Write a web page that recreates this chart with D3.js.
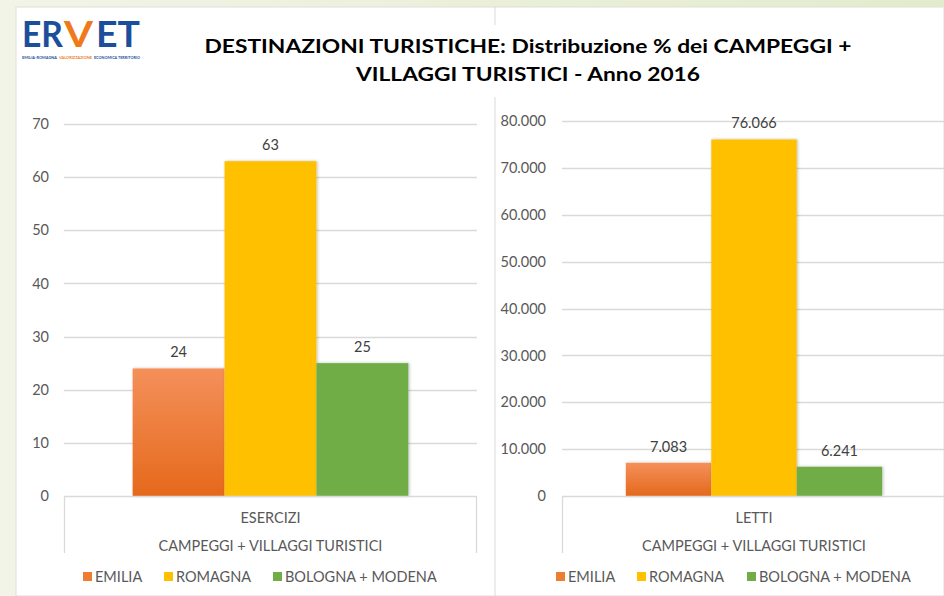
<!DOCTYPE html>
<meta charset="utf-8">
<script src="https://d3js.org/d3.v7.min.js"></script>
<style>
  body { margin: 0; background: #fff; }
  text { font-family: Lato, "Open Sans", sans-serif; }
</style>
<div id="chart"></div>
<script>

// data
var categories = ["EMILIA", "ROMAGNA", "BOLOGNA + MODENA"];
var colors = ["#ED7D31", "#FFC000", "#70AD47"];
var groupLabel = "CAMPEGGI + VILLAGGI TURISTICI";

var eserciziLabel = "ESERCIZI";
var eserciziValues = [24, 63, 25];
var eserciziTicks = [0, 10, 20, 30, 40, 50, 60, 70];

var lettiLabel = "LETTI";
var lettiValues = [7083, 76066, 6241];
var lettiTicks = [0, 10000, 20000, 30000, 40000, 50000, 60000, 70000, 80000];

var titleLines = ["DESTINAZIONI TURISTICHE:  Distribuzione % dei CAMPEGGI  +",
                  "VILLAGGI TURISTICI - Anno 2016"];

// italian number format (dot as thousands separator)
var it = d3.formatLocale({decimal: ",", thousands: ".", grouping: [3], currency: ["", " €"]});
var fmt = it.format(",d");

var W = 944, H = 596;
var svg = d3.select("#chart").append("svg")
    .attr("width", W)
    .attr("height", H);

var defs = svg.append("defs");

// background: pale green frame on left / top
var bg = defs.append("linearGradient").attr("id", "bg").attr("x1", 0).attr("y1", 0).attr("x2", 1).attr("y2", 0);
bg.append("stop").attr("offset", "0%").attr("stop-color", "#f2f4e8");
bg.append("stop").attr("offset", "100%").attr("stop-color", "#e4ebcc");
svg.append("rect").attr("width", W).attr("height", H).attr("fill", "url(#bg)");
svg.append("rect").attr("x", 16).attr("y", 7).attr("width", W - 16).attr("height", H - 7)
    .attr("fill", "#fff").attr("stroke", "#dedfd8").attr("stroke-width", 1);

// orange gradient of the Emilia bars
var og = defs.append("linearGradient").attr("id", "orange").attr("x1", 0).attr("y1", 0).attr("x2", 0).attr("y2", 1);
og.append("stop").attr("offset", "0%").attr("stop-color", "#F4905A");
og.append("stop").attr("offset", "100%").attr("stop-color", "#E5691C");

var shadow = defs.append("filter").attr("id", "shadow")
    .attr("x", "-10%").attr("y", "-10%").attr("width", "130%").attr("height", "120%");
shadow.append("feDropShadow").attr("dx", 1).attr("dy", 0).attr("stdDeviation", 1.5)
    .attr("flood-color", "#000").attr("flood-opacity", 0.25);

var fills = ["url(#orange)", colors[1], colors[2]];

// divider between the two charts
svg.append("line").attr("x1", 495).attr("x2", 495).attr("y1", 7).attr("y2", 25)
    .attr("stroke", "#d9d9d9");
svg.append("line").attr("x1", 495).attr("x2", 495).attr("y1", 97).attr("y2", H)
    .attr("stroke", "#d9d9d9");

// logo, pieces placed side by side
var logo = svg.append("g")
    .style("font-family", "'Liberation Sans Narrow', 'DejaVu Sans Condensed', sans-serif")
    .style("font-weight", "bold");
var logoParts = [
  {t: "ER", x: 22, w: 41, c: "#1B4F9C"},
  {t: "V", x: 64, w: 29, c: "#EF7A1A"},
  {t: "ET", x: 96, w: 44, c: "#1B4F9C"}
];
logo.selectAll(".lp").data(logoParts).enter().append("text")
    .attr("x", function(d) { return d.x; }).attr("y", 47)
    .attr("textLength", function(d) { return d.w; }).attr("lengthAdjust", "spacingAndGlyphs")
    .style("font-size", "36px").attr("fill", function(d) { return d.c; })
    .text(function(d) { return d.t; });
var tagParts = [
  {t: "EMILIA-ROMAGNA", x: 22, w: 35, c: "#1B4F9C"},
  {t: "VALORIZZAZIONE", x: 59, w: 33, c: "#EF7A1A"},
  {t: "ECONOMICA TERRITORIO", x: 94, w: 46, c: "#1B4F9C"}
];
logo.selectAll(".tp").data(tagParts).enter().append("text")
    .attr("x", function(d) { return d.x; }).attr("y", 59)
    .attr("textLength", function(d) { return d.w; }).attr("lengthAdjust", "spacingAndGlyphs")
    .style("font-size", "4px").attr("fill", function(d) { return d.c; })
    .text(function(d) { return d.t; });

// title
svg.append("text").attr("x", 528).attr("y", 53)
    .attr("text-anchor", "middle")
    .attr("textLength", 647).attr("lengthAdjust", "spacingAndGlyphs")
    .style("font-size", "19px").style("font-weight", "bold").attr("fill", "#000")
    .text(titleLines[0]);
svg.append("text").attr("x", 528).attr("y", 81)
    .attr("text-anchor", "middle")
    .attr("textLength", 344).attr("lengthAdjust", "spacingAndGlyphs")
    .style("font-size", "19px").style("font-weight", "bold").attr("fill", "#000")
    .text(titleLines[1]);

function drawPanel(cfg) {
  var g = svg.append("g");

  var y = d3.scaleLinear()
    .domain([0, cfg.ticks[cfg.ticks.length - 1]])
    .range([496, cfg.top]);

  // one category group, bars fill 2/3 of the plot width
  var x0 = d3.scaleBand()
    .domain([cfg.label])
    .range([cfg.left, cfg.right])
    .paddingInner(0)
    .paddingOuter(0.249);
  var x1 = d3.scaleBand()
    .domain(categories)
    .range([0, x0.bandwidth()]);

  // gridlines
  g.selectAll(".grid")
    .data(cfg.ticks.slice(1))
    .enter().append("line")
      .attr("x1", cfg.left).attr("x2", cfg.right)
      .attr("y1", function(d) { return Math.round(y(d)) + 0.5; })
      .attr("y2", function(d) { return Math.round(y(d)) + 0.5; })
      .attr("stroke", "#d9d9d9").attr("stroke-width", 1.3);

  // y axis labels
  var yAxis = d3.axisLeft(y).tickValues(cfg.ticks).tickFormat(fmt).tickSize(0).tickPadding(0);
  var ya = g.append("g")
    .attr("transform", "translate(" + cfg.labelX + ",0)")
    .call(yAxis);
  ya.select(".domain").remove();
  ya.selectAll("text")
    .attr("dy", "0.32em")
    .style("font-family", "Lato, 'Open Sans', sans-serif")
    .style("font-size", "14.5px").attr("fill", "#595959");

  // bars
  var grp = g.append("g").attr("transform", "translate(" + x0(cfg.label) + ",0)");
  grp.selectAll("rect")
    .data(cfg.values)
    .enter().append("rect")
      .attr("x", function(d, i) { return x1(categories[i]); })
      .attr("y", function(d) { return y(d); })
      .attr("width", x1.bandwidth())
      .attr("height", function(d) { return y(0) - y(d); })
      .attr("fill", function(d, i) { return fills[i]; })
      .attr("filter", "url(#shadow)");

  // value labels
  grp.selectAll(".val")
    .data(cfg.values)
    .enter().append("text")
      .attr("x", function(d, i) { return x1(categories[i]) + x1.bandwidth() / 2; })
      .attr("y", function(d) { return y(d) - 11; })
      .attr("text-anchor", "middle")
      .style("font-size", "14.5px").attr("fill", "#404040")
      .text(function(d) { return fmt(d); });

  // category axis box
  g.append("line").attr("x1", cfg.left).attr("x2", cfg.right)
    .attr("y1", 496.5).attr("y2", 496.5).attr("stroke", "#d9d9d9").attr("stroke-width", 1.3);
  g.append("line").attr("x1", cfg.left + 0.5).attr("x2", cfg.left + 0.5)
    .attr("y1", 496).attr("y2", 553).attr("stroke", "#d9d9d9").attr("stroke-width", 1.3);
  g.append("line").attr("x1", cfg.right - 0.5).attr("x2", cfg.right - 0.5)
    .attr("y1", 496).attr("y2", 553).attr("stroke", "#d9d9d9").attr("stroke-width", 1.3);

  var cx = x0(cfg.label) + x0.bandwidth() / 2;
  g.append("text").attr("x", cx).attr("y", 523).attr("text-anchor", "middle")
    .style("font-size", "14.5px").attr("fill", "#595959").text(cfg.label);
  g.append("text").attr("x", cx).attr("y", 551).attr("text-anchor", "middle")
    .style("font-size", "14.5px").attr("fill", "#595959").text(groupLabel);

  // legend
  var leg = g.selectAll(".leg")
    .data(categories)
    .enter().append("g")
      .attr("transform", function(d, i) { return "translate(" + cfg.legendX[i] + ",577)"; });
  leg.append("rect").attr("x", 0).attr("y", -5).attr("width", 9).attr("height", 9)
    .attr("fill", function(d, i) { return colors[i]; });
  leg.append("text").attr("x", 12).attr("y", 5)
    .style("font-size", "14.5px").attr("fill", "#595959")
    .text(function(d) { return d; });
}

drawPanel({
  label: eserciziLabel, values: eserciziValues, ticks: eserciziTicks,
  left: 64, right: 477, top: 124, labelX: 49,
  legendX: [83, 164, 273]
});

drawPanel({
  label: lettiLabel, values: lettiValues, ticks: lettiTicks,
  left: 562, right: 946, top: 121, labelX: 546,
  legendX: [556, 637, 747]
});

</script>
